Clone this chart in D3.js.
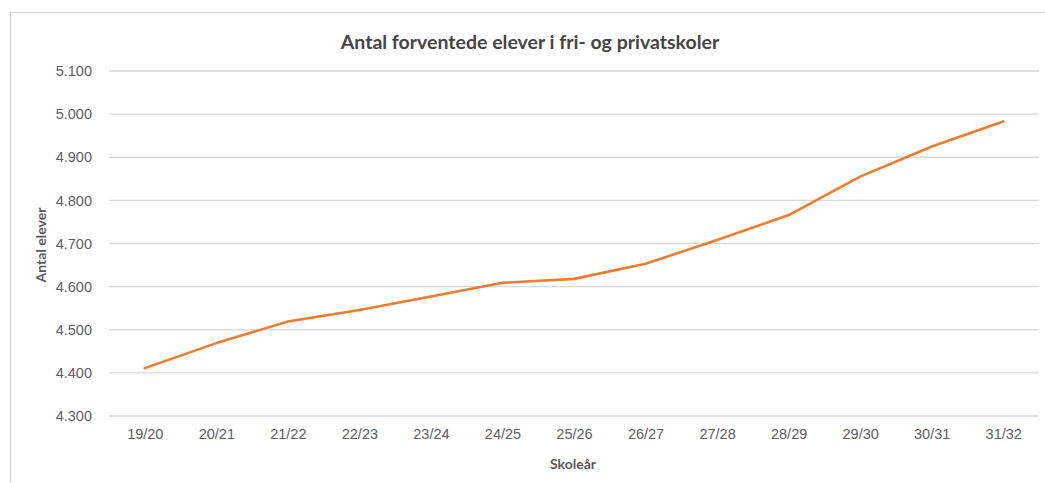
<!DOCTYPE html>
<html><head><meta charset="utf-8">
<script src="https://cdn.jsdelivr.net/npm/d3@7"></script>
<style>
body{margin:0;background:#fff;}
svg{display:block;font-family:Lato,"Open Sans",sans-serif;}
</style></head>
<body><svg id="c" width="1045" height="483"></svg>
<script>
const categories = ["19/20","20/21","21/22","22/23","23/24","24/25","25/26","26/27","27/28","28/29","29/30","30/31","31/32"];
const values = [4411,4469,4519,4546,4577,4609,4618,4653,4708,4766,4855,4925,4983];
const yTicks = [4300,4400,4500,4600,4700,4800,4900,5000,5100];
const title = "Antal forventede elever i fri- og privatskoler";
const xTitle = "Skoleår";
const yTitle = "Antal elever";

const svg = d3.select("#c");
const m = {left:109, right:1039, top:71, bottom:416};
const x = d3.scalePoint().domain(categories).range([m.left, m.right]).padding(0.5);
const y = d3.scaleLinear().domain([4300,5100]).range([m.bottom, m.top]);
const fmt = d => d3.format(",")(d).replace(/,/g, ".");

// chart border
svg.append("path").attr("d","M10.5,483 V12.5 H1045").attr("fill","none").attr("stroke","#d9d9d9").attr("stroke-width",1);

// gridlines
svg.append("g").selectAll("line").data(yTicks).join("line")
  .attr("x1", m.left).attr("x2", m.right)
  .attr("y1", d => y(d)).attr("y2", d => y(d))
  .attr("stroke","#d9d9d9").attr("stroke-width",1.3);

// y axis
const ya = svg.append("g").attr("transform",`translate(${m.left},0)`)
  .call(d3.axisLeft(y).tickValues(yTicks).tickFormat(fmt).tickSize(0).tickPadding(17));
ya.select(".domain").remove();
ya.selectAll("text").attr("fill","#606060").attr("font-size","14.5px");

// x axis
const xa = svg.append("g").attr("transform",`translate(0,${m.bottom})`)
  .call(d3.axisBottom(x).tickSize(0).tickPadding(13));
xa.select(".domain").remove();
xa.selectAll("text").attr("fill","#606060").attr("font-size","14.5px");

// line
svg.append("path").datum(values)
  .attr("fill","none").attr("stroke","#ED7D31").attr("stroke-width",2.6)
  .attr("stroke-linejoin","round").attr("stroke-linecap","round")
  .attr("d", d3.line().x((d,i)=>x(categories[i])).y(d=>y(d)));

// titles
svg.append("text").attr("x",530).attr("y",49).attr("text-anchor","middle")
  .attr("font-size","19.5px").attr("font-weight","bold").attr("fill","#454545").text(title);
svg.append("text").attr("x",573).attr("y",469).attr("text-anchor","middle")
  .attr("font-size","14px").attr("font-weight","bold").attr("fill","#595959").text(xTitle);
svg.append("text").attr("transform","translate(46,245) rotate(-90)").attr("text-anchor","middle")
  .attr("font-size","14px").attr("font-weight","bold").attr("fill","#595959").text(yTitle);
</script></body></html>
